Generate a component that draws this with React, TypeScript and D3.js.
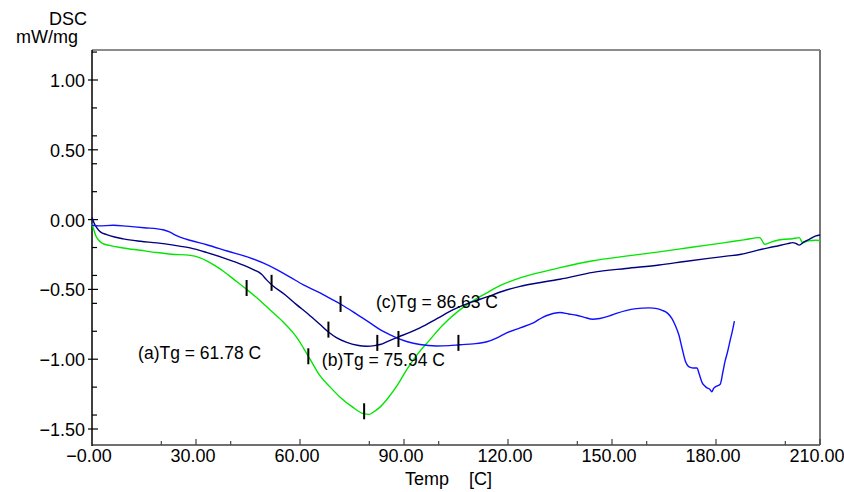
import React from "react";
import * as d3 from "d3";

type Pt = [number, number];

const seriesA: Pt[] = [[0,-0.03],[0.5,-0.07],[1,-0.11],[2,-0.15],[3,-0.17],[5,-0.185],[9,-0.203],[14,-0.22],[18.7,-0.236],[23,-0.248],[28.3,-0.256],[31,-0.272],[33.1,-0.295],[35.5,-0.33],[37.9,-0.37],[41,-0.43],[44.6,-0.5],[48,-0.57],[51.3,-0.645],[55,-0.73],[58,-0.81],[59.5,-0.86],[61,-0.92],[62.9,-1.0],[65.8,-1.12],[68.7,-1.2],[71.5,-1.27],[75,-1.34],[78.3,-1.39],[80,-1.395],[81.1,-1.38],[83,-1.345],[85,-1.29],[88,-1.19],[90.8,-1.074],[94,-0.96],[97.5,-0.86],[101,-0.76],[106.2,-0.645],[110,-0.58],[113.9,-0.525],[118,-0.47],[123.5,-0.418],[129,-0.38],[135,-0.344],[144.5,-0.295],[154,-0.262],[163.6,-0.231],[173,-0.198],[182.6,-0.165],[188,-0.145],[192.6,-0.129],[193.3,-0.15],[194,-0.177],[195.5,-0.165],[196.9,-0.153],[199.7,-0.141],[202,-0.137],[204,-0.129],[205,-0.165],[206.4,-0.153],[207.5,-0.15],[208.8,-0.148],[210,-0.15]];

const seriesB: Pt[] = [[0,0.015],[0.7,-0.03],[1.4,-0.06],[2.5,-0.09],[4.2,-0.107],[6.5,-0.125],[9,-0.138],[14,-0.155],[18.7,-0.167],[23.5,-0.183],[28.3,-0.203],[33,-0.235],[37.9,-0.274],[42.5,-0.315],[47,-0.363],[48.2,-0.378],[49,-0.394],[50.3,-0.43],[51.8,-0.466],[55.5,-0.535],[59,-0.609],[62.5,-0.68],[65.8,-0.752],[68.2,-0.805],[70.5,-0.845],[73.5,-0.879],[76.5,-0.9],[79.2,-0.907],[81.5,-0.903],[83.1,-0.895],[85.5,-0.87],[88.4,-0.84],[91.5,-0.81],[94.6,-0.776],[99.5,-0.71],[104.2,-0.645],[109,-0.595],[113.9,-0.554],[118.5,-0.513],[123.5,-0.478],[129,-0.452],[135,-0.427],[144.5,-0.378],[154,-0.35],[163.6,-0.325],[171,-0.3],[177.8,-0.278],[183,-0.262],[187.3,-0.248],[192.1,-0.219],[196.9,-0.193],[200.7,-0.172],[202.1,-0.165],[203,-0.17],[204,-0.183],[205.4,-0.16],[207,-0.14],[208.8,-0.117],[210,-0.11]];

const seriesC: Pt[] = [[0,-0.04],[2,-0.045],[6.1,-0.041],[10,-0.047],[15,-0.058],[20.5,-0.073],[22.5,-0.09],[24.4,-0.115],[28.5,-0.15],[33.1,-0.18],[39,-0.225],[45.6,-0.274],[49.5,-0.312],[53.3,-0.358],[57,-0.41],[61,-0.468],[65.8,-0.525],[68.7,-0.565],[72,-0.61],[76,-0.672],[80.2,-0.74],[83.1,-0.788],[86,-0.825],[87.9,-0.847],[91,-0.875],[94.6,-0.895],[99.4,-0.905],[103,-0.903],[106.2,-0.896],[110,-0.89],[113.9,-0.875],[117,-0.845],[119.6,-0.812],[123.5,-0.775],[127.3,-0.74],[130,-0.7],[132.1,-0.68],[135,-0.666],[137.5,-0.676],[139.8,-0.685],[142,-0.7],[144.5,-0.714],[146.5,-0.708],[149.3,-0.69],[151.5,-0.67],[154,-0.652],[157,-0.638],[160.7,-0.632],[163,-0.638],[164.5,-0.65],[166,-0.67],[167.3,-0.709],[168.3,-0.76],[169.3,-0.827],[170.2,-0.92],[171.2,-1.016],[172,-1.05],[172.6,-1.059],[173.5,-1.063],[174.5,-1.063],[175.2,-1.11],[176,-1.168],[176.7,-1.19],[177.4,-1.205],[178.2,-1.215],[178.8,-1.234],[179.3,-1.21],[179.7,-1.2],[180.5,-1.19],[181.2,-1.18],[182,-1.09],[182.6,-1.016],[183.3,-0.95],[184,-0.874],[184.7,-0.8],[185.3,-0.728]];

const markers: Pt[] = [[44.6,-0.49],[62.4,-0.979],[78.5,-1.373],[51.8,-0.453],[68.2,-0.788],[82.3,-0.883],[71.7,-0.604],[88.4,-0.855],[105.7,-0.883]];

const annotations: { x: number; y: number; text: string }[] = [
  { x: 13.3, y: -0.996, text: "(a)Tg = 61.78 C" },
  { x: 66.3, y: -1.052, text: "(b)Tg = 75.94 C" },
  { x: 81.9, y: -0.631, text: "(c)Tg = 86.63 C" },
];

const xMajor = [0, 30, 60, 90, 120, 150, 180, 210];
const xMajorLabels = ["\u22120.00", "30.00", "60.00", "90.00", "120.00", "150.00", "180.00", "210.00"];
const xMinor = [20, 40, 80, 100, 140, 160, 200];
const yMajor = [1.0, 0.5, 0.0, -0.5, -1.0, -1.5];
const yMajorLabels = ["1.00", "0.50", "0.00", "\u22120.50", "\u22121.00", "\u22121.50"];
const yMinor = [1.2, 0.8, 0.6, 0.4, 0.2, -0.2, -0.4, -0.6, -0.8, -1.2, -1.4];

const FONT = "'Liberation Sans', Arial, sans-serif";

export default function App() {
  const left = 92, right = 820, top = 50, bottom = 445;
  const x = d3.scaleLinear().domain([0, 210]).range([left, right]);
  const y = d3.scaleLinear().domain([-1.5, 1.0]).range([429, 80]);
  const line = d3
    .line<Pt>()
    .x((d) => x(d[0]))
    .y((d) => y(d[1]))
    .curve(d3.curveMonotoneX);

  return (
    <svg
      width={844}
      height={492}
      style={{ position: "absolute", left: 0, top: 0, background: "#fff" }}
      fontFamily={FONT}
    >
      <rect x={0} y={0} width={844} height={492} fill="#fff" />
      {/* frame */}
      <line x1={left} x2={right} y1={top} y2={top} stroke="#666" strokeWidth={1.5} />
      <line x1={right} x2={right} y1={top} y2={bottom} stroke="#777" strokeWidth={2} />
      <line x1={left} x2={right} y1={bottom} y2={bottom} stroke="#707070" strokeWidth={2} />
      <line x1={left} x2={left} y1={top} y2={bottom + 1} stroke="#000" strokeWidth={1.5} />

      {/* y ticks */}
      {yMajor.map((v, i) => (
        <g key={"ym" + i}>
          <line x1={left - 4} x2={left + 6} y1={y(v)} y2={y(v)} stroke="#000" strokeWidth={1.2} />
          <text x={85} y={y(v) + 7} textAnchor="end" fontSize={18} fill="#000">
            {yMajorLabels[i]}
          </text>
        </g>
      ))}
      {yMinor.map((v, i) => (
        <line key={"yn" + i} x1={left} x2={left + 5} y1={y(v)} y2={y(v)} stroke="#000" strokeWidth={1.2} />
      ))}

      {/* x ticks */}
      {xMajor.map((v, i) => (
        <g key={"xm" + i}>
          <line x1={x(v)} x2={x(v)} y1={bottom} y2={bottom - 6} stroke="#444" strokeWidth={1.2} />
          <text x={x(v) - 3} y={462} textAnchor="middle" fontSize={18} fill="#000">
            {xMajorLabels[i]}
          </text>
        </g>
      ))}
      {xMinor.map((v, i) => (
        <line key={"xn" + i} x1={x(v)} x2={x(v)} y1={bottom} y2={bottom - 4} stroke="#444" strokeWidth={1.2} />
      ))}

      {/* axis titles */}
      <text x={87} y={25} textAnchor="end" fontSize={18} fill="#000">DSC</text>
      <text x={78} y={43} textAnchor="end" fontSize={18} fill="#000">mW/mg</text>
      <text x={405} y={485} fontSize={18} fill="#000" style={{ whiteSpace: "pre" }}>
        {"Temp    [C]"}
      </text>

      {/* curves */}
      <path d={line(seriesA) || ""} fill="none" stroke="#00e600" strokeWidth={1.4} />
      <path d={line(seriesB) || ""} fill="none" stroke="#000080" strokeWidth={1.4} />
      <path d={line(seriesC) || ""} fill="none" stroke="#1010ff" strokeWidth={1.4} />

      {/* Tg markers */}
      {markers.map((m, i) => (
        <line
          key={"mk" + i}
          x1={x(m[0])}
          x2={x(m[0])}
          y1={y(m[1]) - 8}
          y2={y(m[1]) + 8}
          stroke="#000"
          strokeWidth={2}
        />
      ))}

      {/* annotations */}
      {annotations.map((a, i) => (
        <text key={"an" + i} x={x(a.x)} y={y(a.y)} fontSize={17.5} fill="#000">
          {a.text}
        </text>
      ))}
    </svg>
  );
}
